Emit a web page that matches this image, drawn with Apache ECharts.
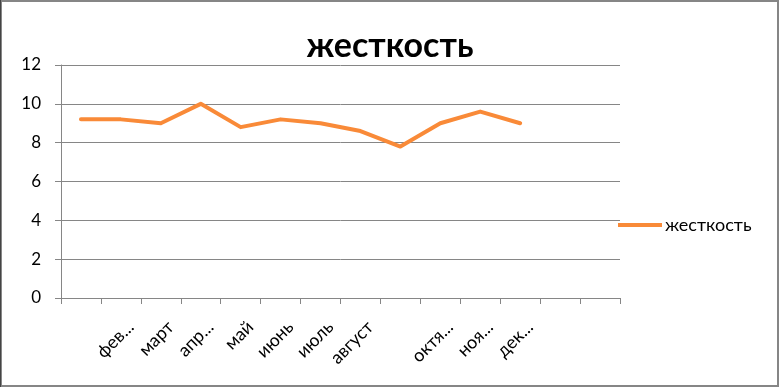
<!DOCTYPE html>
<html>
<head>
<meta charset="utf-8">
<script src="https://cdn.jsdelivr.net/npm/echarts@6/dist/echarts.min.js"></script>
<style>
html,body{margin:0;padding:0;background:#fff;}
#c{width:780px;height:387px;}
</style>
</head>
<body>
<div id="c"></div>
<script>
const titleText = "жесткость";
const seriesName = "жесткость";
const categories = ["", "фев...", "март", "апр...", "май", "июнь", "июль", "август", "", "октя...", "ноя...", "дек...", "", ""];
const values = [9.2, 9.2, 9.0, 10.0, 8.8, 9.2, 9.0, 8.6, 7.8, 9.0, 9.6, 9.0];
const yTicks = { min: 0, max: 12, interval: 2 };

const chart = echarts.init(document.getElementById('c'), null, { renderer: 'canvas' });
const gray = '#868686';
chart.setOption({
  animation: false,
  backgroundColor: '#fff',
  textStyle: { fontFamily: 'Lato' },
  title: {
    text: titleText,
    left: 'center',
    top: 24,
    textStyle: { fontFamily: 'Lato', fontWeight: 'bold', fontSize: 34, color: '#000' }
  },
  legend: {
    left: 618,
    top: 216,
    padding: 0,
    itemWidth: 44,
    itemHeight: 20,
    itemGap: 5,
    textStyle: { fontFamily: 'Lato', fontSize: 18, color: '#000', padding: [0, 0, 0, -2] },
    data: [{ name: seriesName, icon: 'path://M0,0 L44,0 L44,4 L0,4 Z' }]
  },
  grid: { left: 61, right: 160, top: 65, bottom: 89, containLabel: false },
  xAxis: {
    type: 'category',
    data: categories,
    boundaryGap: true,
    axisLine: { lineStyle: { color: gray, width: 1 } },
    axisTick: { show: true, length: 6, interval: 0, lineStyle: { color: gray } },
    axisLabel: {
      interval: 0, rotate: 45, margin: 36,
      fontFamily: 'Lato', fontSize: 18, color: '#000',
      padding: [0, -14, 0, 0]
    },
    splitLine: { show: false }
  },
  yAxis: {
    type: 'value',
    min: yTicks.min, max: yTicks.max, interval: yTicks.interval,
    axisLine: { show: true, lineStyle: { color: gray, width: 1 } },
    axisTick: { show: true, length: 6, lineStyle: { color: gray } },
    axisLabel: { margin: 20, fontFamily: 'Lato', fontSize: 17, color: '#000' },
    splitLine: { show: true, lineStyle: { color: gray, width: 1 } }
  },
  series: [{
    name: seriesName,
    type: 'line',
    data: values,
    symbol: 'none',
    lineStyle: { color: '#F98A38', width: 4, join: 'round', cap: 'round' },
    itemStyle: { color: '#F98A38' }
  }],
  graphic: [
    { type: 'rect', shape: { x: 1, y: 1, width: 777, height: 385 }, style: { fill: null, stroke: gray, lineWidth: 2 }, z: 100 },
    { type: 'line', shape: { x1: 0.5, y1: 0, x2: 0.5, y2: 387 }, style: { stroke: '#444', lineWidth: 1 }, z: 101 }
  ]
});
</script>
</body>
</html>
